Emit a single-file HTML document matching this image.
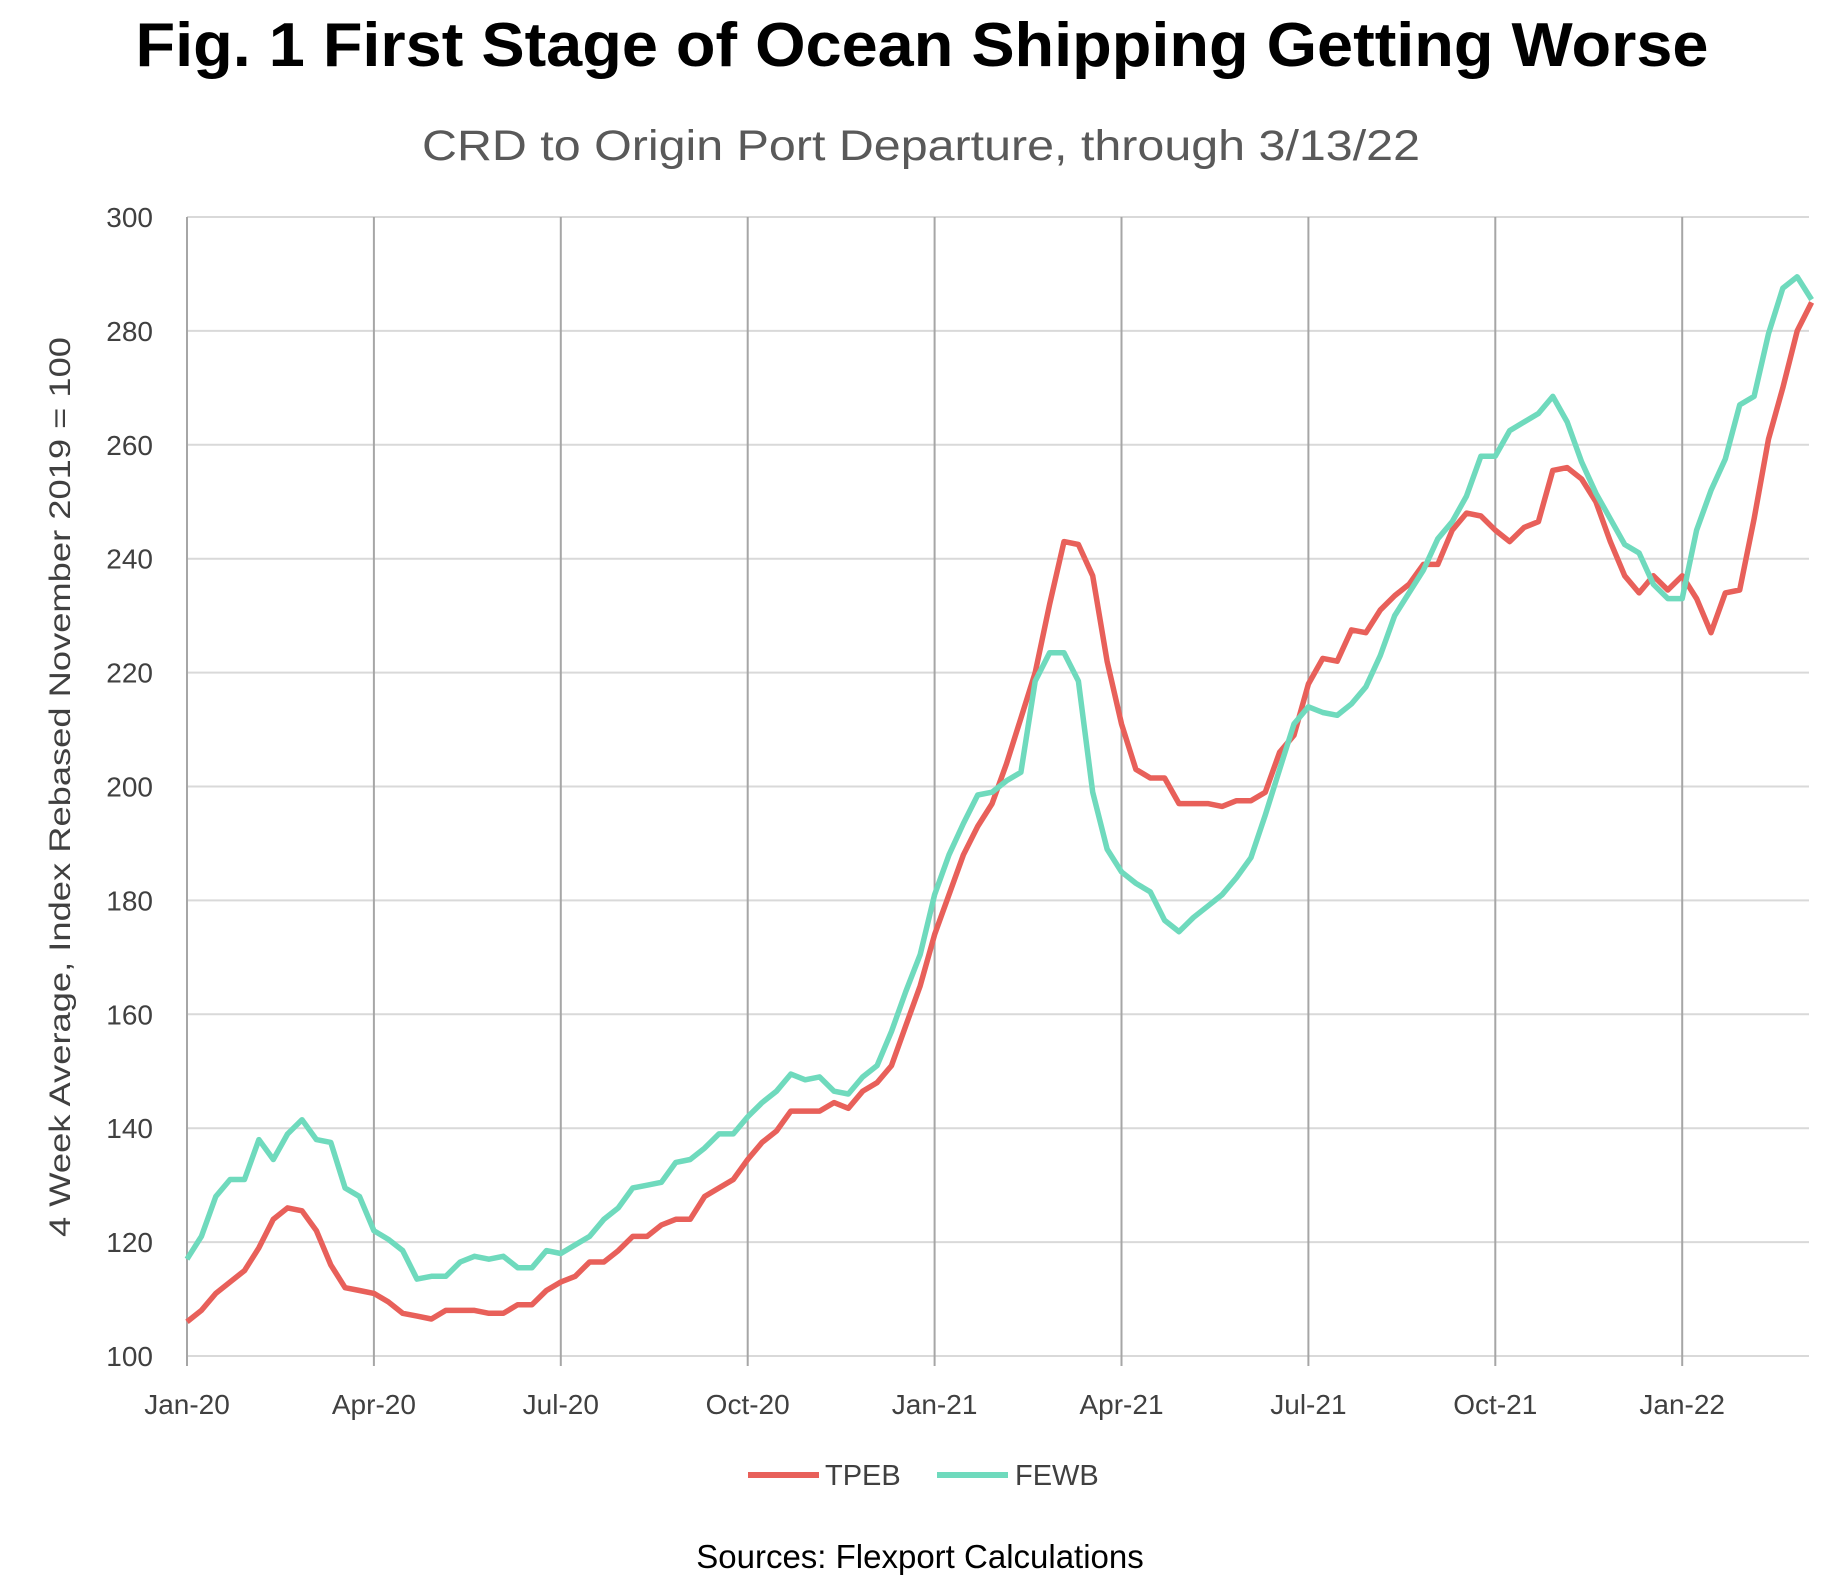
<!DOCTYPE html>
<html><head><meta charset="utf-8"><style>
html,body{margin:0;padding:0;background:#fff;}
svg{display:block;font-family:"Liberation Sans",Arial,sans-serif;}
</style></head><body>
<svg id="chart" width="1845" height="1591" viewBox="0 0 1845 1591">
<text x="922" y="66" text-anchor="middle" font-size="62" font-weight="bold" fill="#000" textLength="1573" lengthAdjust="spacingAndGlyphs">Fig. 1 First Stage of Ocean Shipping Getting Worse</text>
<text x="921" y="160" text-anchor="middle" font-size="43" fill="#595959" textLength="998" lengthAdjust="spacingAndGlyphs">CRD to Origin Port Departure, through 3/13/22</text>
<g id="grid"></g>
<g id="series"></g>
<text transform="translate(70,787) rotate(-90)" text-anchor="middle" font-size="30" fill="#404040" textLength="900" lengthAdjust="spacingAndGlyphs">4 Week Average, Index Rebased November 2019 = 100</text>
<g>
<line x1="748" y1="1475" x2="819" y2="1475" stroke="#e8605a" stroke-width="6"/>
<text x="825" y="1485" font-size="29" fill="#404040">TPEB</text>
<line x1="937" y1="1475" x2="1008" y2="1475" stroke="#6fdabd" stroke-width="6"/>
<text x="1015" y="1485" font-size="29" fill="#404040">FEWB</text>
</g>
<text x="920" y="1568" text-anchor="middle" font-size="33" fill="#000">Sources: Flexport Calculations</text>
</svg>
<script>
const xLabels=["Jan-20","Apr-20","Jul-20","Oct-20","Jan-21","Apr-21","Jul-21","Oct-21","Jan-22"];
const yTicks=[100,120,140,160,180,200,220,240,260,280,300];
const tpeb=[106,108,111,113,115,119,124,126,125.5,122,116,112,111.5,111,109.5,107.5,107,106.5,108,108,108,107.5,107.5,109,109,111.5,113,114,116.5,116.5,118.5,121,121,123,124,124,128,129.5,131,134.5,137.5,139.5,143,143,143,144.5,143.5,146.5,148,151,158,165,174,181,188,193,197,204,212,220,232,243,242.5,237,222,211,203,201.5,201.5,197,197,197,196.5,197.5,197.5,199,206,209,218,222.5,222,227.5,227,231,233.5,235.5,239,239,245,248,247.5,245,243,245.5,246.5,255.5,256,254,250,243,237,234,237,234.5,237,233,227,234,234.5,247,261,270,280,285];
const fewb=[117,121,128,131,131,138,134.5,139,141.5,138,137.5,129.5,128,122,120.5,118.5,113.5,114,114,116.5,117.5,117,117.5,115.5,115.5,118.5,118,119.5,121,124,126,129.5,130,130.5,134,134.5,136.5,139,139,142,144.5,146.5,149.5,148.5,149,146.5,146,149,151,157,164,170.5,181,188,193.5,198.5,199,201,202.5,218.5,223.5,223.5,218.5,199,189,185,183,181.5,176.5,174.5,177,179,181,184,187.5,195,203,211,214,213,212.5,214.5,217.5,223,230,234,238,243.5,246.5,251,258,258,262.5,264,265.5,268.5,264,257,251.5,247,242.5,241,235.5,233,233,245,252,257.5,267,268.5,279.5,287.5,289.5,285.5];
const NS="http://www.w3.org/2000/svg";
const X0=187,XR=1809,QW=186.9,WK=QW/13,YB=1356,YT=217;
const xQ=i=>X0+i*QW, xW=i=>X0+i*WK, y=v=>YB-(v-100)/200*(YB-YT);
const grid=document.getElementById('grid'), ser=document.getElementById('series');
function mk(tag,a,p){const e=document.createElementNS(NS,tag);for(const k in a)e.setAttribute(k,a[k]);p.appendChild(e);return e;}
yTicks.forEach(v=>{
  const l=mk('line',{x1:X0,x2:XR,y1:y(v),y2:y(v),stroke:'#d9d9d9','stroke-width':2},grid);
  
  
  const t=mk('text',{x:153,y:y(v)+10,'text-anchor':'end','font-size':28,fill:'#404040'},grid);
  t.textContent=v;
  
  
});
xLabels.forEach((s,i)=>{
  const l=mk('line',{x1:xQ(i),x2:xQ(i),y1:YT,y2:YB+10,stroke:'#a6a6a6','stroke-width':2},grid);
  
  
  const t=mk('text',{x:xQ(i),y:1414,'text-anchor':'middle','font-size':28,fill:'#404040'},grid);
  t.textContent=s;
  
  
});
function line(d,c,n){
  const p=mk('polyline',{points:d.map((v,i)=>xW(i).toFixed(1)+','+y(v).toFixed(1)).join(' '),fill:'none',stroke:c,'stroke-width':5.5,'stroke-linejoin':'round'},ser);
  
  
}
line(tpeb,'#e8605a','tpeb-line');
line(fewb,'#6fdabd','fewb-line');
</script>
</body></html>
